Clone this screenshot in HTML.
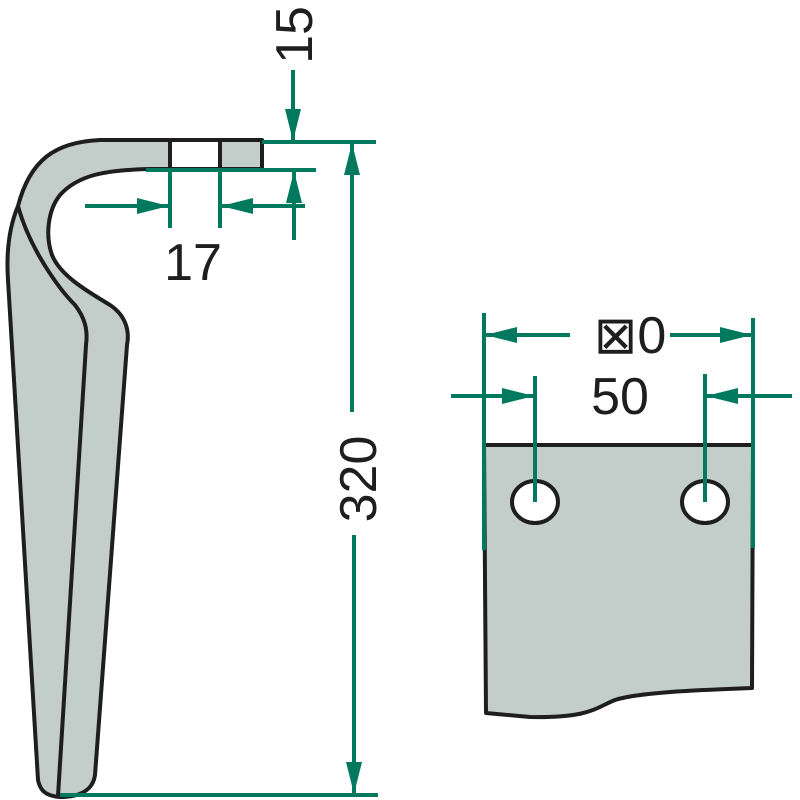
<!DOCTYPE html>
<html><head><meta charset="utf-8"><style>html,body{margin:0;padding:0;background:#fff;}svg{display:block}</style></head>
<body>
<svg width="800" height="800" viewBox="0 0 800 800" xmlns="http://www.w3.org/2000/svg">
<defs>
<marker id="a" viewBox="0 0 20 10" refX="20" refY="5" markerWidth="8" markerHeight="4" markerUnits="strokeWidth" orient="auto">
<path d="M0,0 L20,5 L0,10 z" fill="#00795f"/></marker>
</defs>
<g stroke="#1e1e1e" stroke-width="4" stroke-linejoin="round" fill="#c3cdca">
<path d="M18,206 C30,160 55,142 100,140 L262,140 L262,169 L150,169 C105,170 78,175 60,195 C48,210 45,235 52,255 C60,275 85,290 110,305 C125,315 130,330 127,345 L95,775 C93,790 80,797 60,797 C45,796 40,790 38,780 L8,280 C6,250 10,225 18,206 Z"/>
<path d="M18,206 C30,250 60,290 75,305 C85,318 88,330 86,345 L58,796" fill="none"/>
<rect x="170" y="140" width="50" height="29" fill="#fff"/>
<path d="M484,445 L753,445 L752,688 C700,690 640,692 615,700 C595,708 590,718 530,717 L486,713 Z"/>
<ellipse cx="535" cy="502" rx="23" ry="21" fill="#fff"/>
<ellipse cx="705" cy="502" rx="23" ry="21" fill="#fff"/>
</g>
<g stroke="#00795f" stroke-width="4" fill="none">
<line x1="293" y1="70" x2="293" y2="141" marker-end="url(#a)"/>
<line x1="262" y1="142" x2="376" y2="142"/>
<line x1="146" y1="170" x2="316" y2="170"/>
<line x1="294" y1="240" x2="294" y2="171" marker-end="url(#a)"/>
<line x1="170" y1="170" x2="170" y2="228"/>
<line x1="220" y1="170" x2="220" y2="228"/>
<line x1="85" y1="206" x2="169" y2="206" marker-end="url(#a)"/>
<line x1="305" y1="206" x2="221" y2="206" marker-end="url(#a)"/>
<line x1="352" y1="412" x2="352" y2="143" marker-end="url(#a)"/>
<line x1="354" y1="535" x2="354" y2="794" marker-end="url(#a)"/>
<line x1="60" y1="795" x2="378" y2="795"/>
<line x1="484" y1="313" x2="484" y2="550"/>
<line x1="753" y1="318" x2="753" y2="548"/>
<line x1="570" y1="335" x2="485" y2="335" marker-end="url(#a)"/>
<line x1="670" y1="335" x2="752" y2="335" marker-end="url(#a)"/>
<line x1="535" y1="376" x2="535" y2="502"/>
<line x1="705" y1="374" x2="705" y2="502"/>
<line x1="451" y1="396" x2="534" y2="396" marker-end="url(#a)"/>
<line x1="792" y1="396" x2="706" y2="396" marker-end="url(#a)"/>
</g>
<g font-family="Liberation Sans, sans-serif" font-size="52" fill="#1e1e1e" text-anchor="middle">
<text x="193" y="280">17</text>
<text x="620" y="414">50</text>
<text x="630" y="353">⊠0</text>
<text transform="translate(312,35) rotate(-90)" x="0" y="0">15</text>
<text transform="translate(376,479) rotate(-90)" x="0" y="0">320</text>
</g>
</svg>
</body></html>
